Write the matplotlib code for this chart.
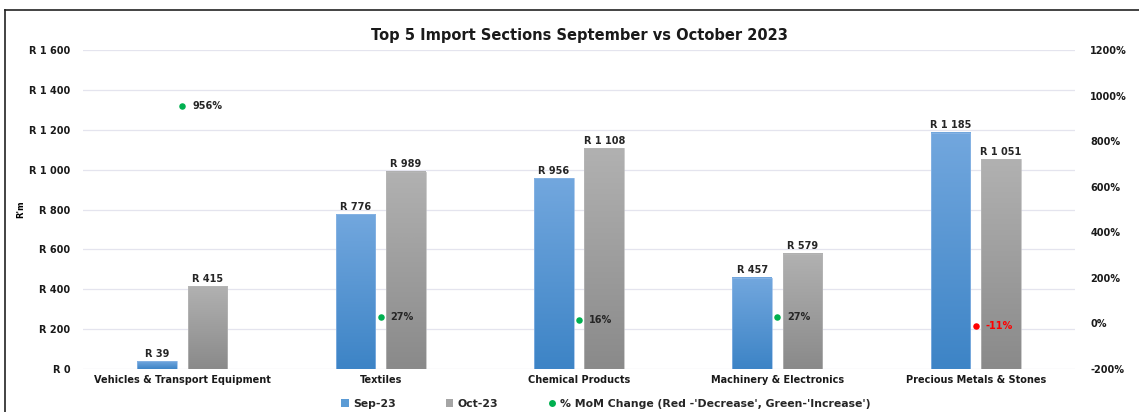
import matplotlib.pyplot as plt
import numpy as np
from matplotlib.lines import Line2D
from matplotlib.patches import Patch

plt.rcParams['font.family'] = 'DejaVu Sans'

# Dados (R milhões)
categories = ['Vehicles & Transport Equipment', 'Textiles', 'Chemical Products',
              'Machinery & Electronics', 'Precious Metals & Stones']
sep_23 = [39, 776, 956, 457, 1185]
oct_23 = [415, 989, 1108, 579, 1051]
mom_change = [956, 27, 16, 27, -11]

left_ticks = [0, 200, 400, 600, 800, 1000, 1200, 1400, 1600]
right_ticks = [-200, 0, 200, 400, 600, 800, 1000, 1200]


def rand_fmt(v):
    s = f"{int(v):,}".replace(',', ' ')
    return f"R {s}"


def gradient_bar(ax, rect, top_color, bottom_color):
    x0 = rect.get_x()
    w = rect.get_width()
    h = rect.get_height()
    c_top = np.array(plt.matplotlib.colors.to_rgb(top_color))
    c_bot = np.array(plt.matplotlib.colors.to_rgb(bottom_color))
    t = np.linspace(0, 1, 64)[:, None]
    img = (c_top * (1 - t) + c_bot * t)[:, None, :]
    ax.imshow(img, extent=[x0, x0 + w, 0, h], aspect='auto', zorder=2,
              interpolation='bicubic', origin='upper')
    rect.set_facecolor('none')


fig = plt.figure(figsize=(11.39, 4.12), dpi=100)
ax = fig.add_axes([0.0729, 0.1044, 0.8709, 0.7742])

x = np.arange(len(categories))
w = 0.2
bars_sep = ax.bar(x - 0.127, sep_23, w, zorder=3, edgecolor='#8fb8e6', linewidth=0.5)
bars_oct = ax.bar(x + 0.127, oct_23, w, zorder=3, edgecolor='#b8b8b8', linewidth=0.5)

for r in bars_sep:
    gradient_bar(ax, r, '#72a7de', '#3d84c6')
for r in bars_oct:
    gradient_bar(ax, r, '#b1b1b1', '#8a8a8a')

for r, v in zip(bars_sep, sep_23):
    ax.text(r.get_x() + r.get_width() / 2, v + 12, rand_fmt(v), ha='center', va='bottom',
            fontsize=7, weight='bold', color='#262626', zorder=5)
for r, v in zip(bars_oct, oct_23):
    ax.text(r.get_x() + r.get_width() / 2, v + 12, rand_fmt(v), ha='center', va='bottom',
            fontsize=7, weight='bold', color='#262626', zorder=5)

ax.set_xlim(-0.5, len(categories) - 0.5)
ax.set_ylim(0, 1600)
ax.set_yticks(left_ticks)
ax.set_yticklabels([rand_fmt(v) for v in left_ticks])
ax.set_xticks(x)
ax.set_xticklabels(categories)
ax.tick_params(axis='both', length=0, labelsize=7)
ax.tick_params(axis='y', pad=9)
ax.tick_params(axis='x', pad=4)
for lbl in ax.get_xticklabels() + ax.get_yticklabels():
    lbl.set_fontweight('bold')
    lbl.set_color('#1a1a1a')
ax.grid(axis='y', color='#e4e4ee', linewidth=0.9, zorder=0)
ax.set_axisbelow(True)
for s in ax.spines.values():
    s.set_visible(False)
ax.set_ylabel("R'm", fontsize=6, weight='bold')
ax.yaxis.set_label_coords(-0.058, 0.5)

# Eixo secundário com a variação mensal
ax2 = ax.twinx()
ax2.set_ylim(-200, 1200)
ax2.set_yticks(right_ticks)
ax2.set_yticklabels([f"{v}%" for v in right_ticks])
ax2.tick_params(axis='y', length=0, labelsize=7, pad=11)
for lbl in ax2.get_yticklabels():
    lbl.set_fontweight('bold')
    lbl.set_color('#1a1a1a')
for s in ax2.spines.values():
    s.set_visible(False)

for xi, m in zip(x, mom_change):
    col = '#00b050' if m >= 0 else '#ff0000'
    ax2.scatter(xi, m, s=22, color=col, zorder=6, linewidths=0)
    ax2.text(xi + 0.05, m, f"{m}%", va='center', ha='left', fontsize=7, weight='bold',
             color='#262626' if m >= 0 else '#ff0000', zorder=6)

fig.text(0.509, 0.915, 'Top 5 Import Sections September vs October 2023',
         ha='center', va='center', fontsize=10.5, weight='bold', color='#1a1a1a')

handles = [
    Patch(facecolor='#5b9bd5', label='Sep-23'),
    Patch(facecolor='#a5a5a5', label='Oct-23'),
    Line2D([0], [0], marker='o', linestyle='none', markerfacecolor='#00b050',
           markeredgewidth=0, markersize=5,
           label="% MoM Change (Red -'Decrease', Green-'Increase')"),
]
leg = fig.legend(handles=handles, loc='center', bbox_to_anchor=(0.532, 0.02), ncol=3,
                 frameon=False, fontsize=7.8, handlelength=0.7, handleheight=0.7,
                 columnspacing=4.6, handletextpad=0.4)
for t in leg.get_texts():
    t.set_fontweight('bold')
    t.set_color('#262626')

# Moldura cortada (bordas esquerda e superior)
fig.add_artist(Line2D([5 / 1139, 5 / 1139], [0, 1 - 10 / 412], color='#222222', lw=1.2,
                      transform=fig.transFigure))
fig.add_artist(Line2D([5 / 1139, 1], [1 - 10 / 412, 1 - 10 / 412], color='#222222', lw=1.2,
                      transform=fig.transFigure))

plt.savefig('out.png', dpi=100)
